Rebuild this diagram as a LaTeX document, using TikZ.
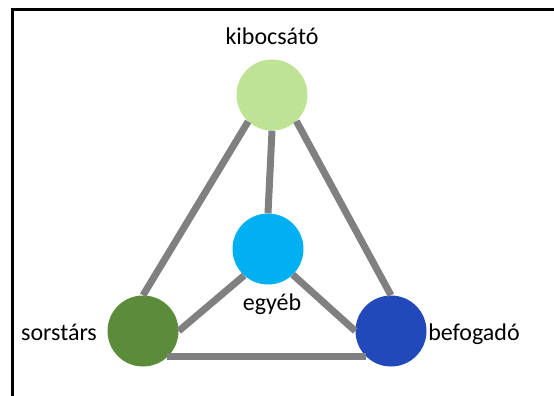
\documentclass[tikz,border=0pt]{standalone}
\usepackage{fontspec}
\setmainfont{Carlito}
\definecolor{cKib}{HTML}{BEE395}
\definecolor{cEgy}{HTML}{00B0F0}
\definecolor{cSor}{HTML}{5B8C3A}
\definecolor{cBef}{HTML}{2149BA}
\definecolor{cLine}{HTML}{808080}
\begin{document}
\begin{tikzpicture}[x=1pt,y=-1pt,
  ball/.style={circle,minimum size=71pt,inner sep=0pt,draw=none},
  link/.style={draw=cLine,line width=7pt},
  lbl/.style={font=\fontsize{24}{29}\selectfont,anchor=base,inner sep=0pt}]
\useasboundingbox (0,0) rectangle (554,396);
\begin{scope}
\clip (0,0) rectangle (554,396);
\draw[line width=3pt] (12.5,9.5) rectangle (600,450);
\end{scope}
\node[ball,fill=cKib] (kib) at (272,95) {};
\node[ball,fill=cEgy] (egy) at (268,249) {};
\node[ball,fill=cSor] (sor) at (143,331) {};
\node[ball,fill=cBef] (bef) at (391,331) {};
\draw[link] (kib.228) -- (sor.90);
\draw[link] (kib.-47) -- (bef.90);
\draw[link] (kib.270) -- (egy.90);
\draw[link] (egy.228) -- (sor.0);
\draw[link] (egy.-46) -- (bef.180);
\coordinate (sb) at ([xshift=-1pt]sor.-45);
\draw[link] (sb) -- (sb -| bef.225);
\node[lbl] (tkib) at (272,45) {kibocsátó};
\node[lbl] (tegy) at (272,310) {egyéb};
\node[lbl] (tsor) at (59,340) {sorstárs};
\node[lbl] (tbef) at (474,340) {befogadó};
\end{tikzpicture}
\end{document}
